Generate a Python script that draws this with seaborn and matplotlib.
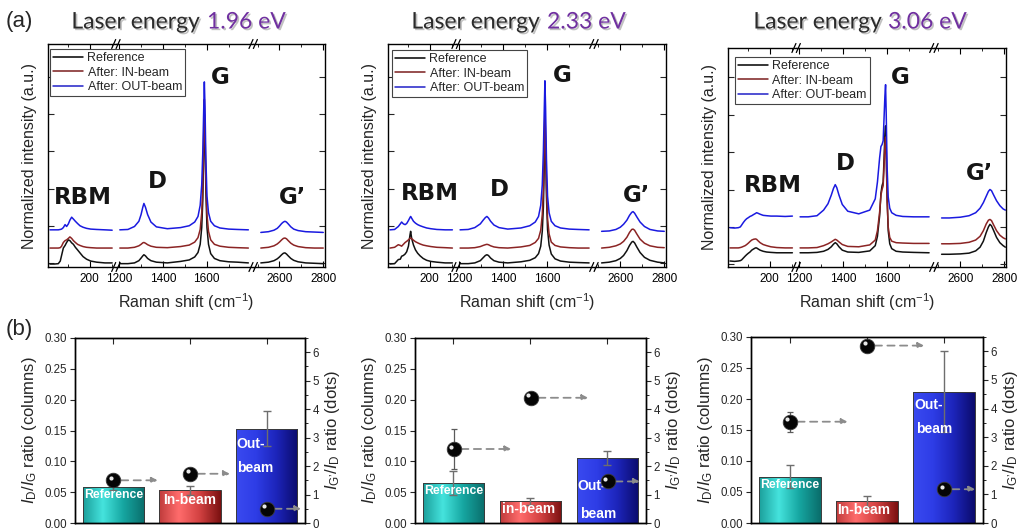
import numpy as np
import pandas as pd
import matplotlib
matplotlib.use("Agg")
import matplotlib.pyplot as plt
import seaborn as sns
from matplotlib.colors import LinearSegmentedColormap
from matplotlib.ticker import FixedLocator, MultipleLocator, FormatStrFormatter
from matplotlib.lines import Line2D
import matplotlib.transforms as mtrans
import matplotlib.patheffects as pe

sns.set_theme(style="ticks")
plt.rcParams["font.family"] = ["Liberation Sans", "DejaVu Sans"]
plt.rcParams["mathtext.fontset"] = "custom"
plt.rcParams["mathtext.rm"] = "Liberation Sans"
plt.rcParams["mathtext.it"] = "Liberation Sans:italic"
plt.rcParams["mathtext.bf"] = "Liberation Sans:bold"

# ---------------- data: Raman spectra (normalized, stacked) ----------------
series_names = ["Reference", "After: IN-beam", "After: OUT-beam"]
energies = ["1.96 eV", "2.33 eV", "3.06 eV"]

# 1.96 eV
e1_rbm_x = [19, 40, 57, 66, 72, 80, 88, 95, 103, 110, 118, 126, 135, 145, 156, 170, 186, 205, 232, 270, 303]
e1_rbm_ref = [-0.03, -0.03, -0.02, 0.05, 0.2, 0.4, 0.47, 0.55, 0.62, 0.6, 0.54, 0.5, 0.42, 0.35, 0.27, 0.17, 0.1, 0.05, 0.02, 0.0, 0.0]
e1_rbm_in = [0.4, 0.4, 0.4, 0.41, 0.45, 0.55, 0.6, 0.62, 0.66, 0.7, 0.66, 0.6, 0.55, 0.5, 0.47, 0.44, 0.42, 0.41, 0.4, 0.4, 0.4]
e1_rbm_out = [0.89, 0.89, 0.89, 0.9, 0.91, 0.95, 1.03, 0.98, 1.05, 1.15, 1.23, 1.18, 1.12, 1.06, 1.0, 0.96, 0.93, 0.91, 0.9, 0.89, 0.88]
e1_mid_x = [1203, 1240, 1270, 1290, 1300, 1308, 1313, 1320, 1330, 1345, 1370, 1420, 1480, 1520, 1545, 1560, 1570, 1577, 1582, 1586, 1589, 1592, 1596, 1601, 1608, 1618, 1635, 1660, 1700, 1740, 1790]
e1_mid_ref = [-0.02, -0.02, 0.0, 0.06, 0.13, 0.19, 0.22, 0.19, 0.12, 0.06, 0.02, 0.0, 0.04, 0.08, 0.16, 0.28, 0.5, 0.95, 1.7, 3.0, 4.0, 3.3, 1.9, 0.95, 0.5, 0.25, 0.12, 0.06, 0.03, 0.02, 0.0]
e1_mid_in = [0.4, 0.4, 0.42, 0.46, 0.5, 0.54, 0.55, 0.53, 0.49, 0.45, 0.42, 0.41, 0.44, 0.48, 0.56, 0.68, 0.9, 1.35, 2.1, 3.4, 4.4, 3.6, 2.2, 1.3, 0.85, 0.62, 0.5, 0.45, 0.42, 0.41, 0.4]
e1_mid_out = [0.89, 0.9, 0.98, 1.12, 1.3, 1.5, 1.6, 1.5, 1.3, 1.1, 0.97, 0.92, 0.95, 1.0, 1.1, 1.25, 1.55, 2.1, 3.0, 4.1, 4.87, 4.2, 2.8, 1.8, 1.35, 1.12, 1.0, 0.94, 0.91, 0.9, 0.89]
e1_gp_x = [2515, 2550, 2575, 2590, 2600, 2610, 2618, 2625, 2632, 2640, 2652, 2665, 2685, 2720, 2760, 2800]
e1_gp_ref = [0.0, 0.02, 0.06, 0.11, 0.16, 0.22, 0.26, 0.27, 0.24, 0.19, 0.12, 0.07, 0.03, 0.0, -0.01, -0.02]
e1_gp_in = [0.4, 0.42, 0.46, 0.51, 0.56, 0.62, 0.66, 0.67, 0.65, 0.6, 0.53, 0.48, 0.44, 0.41, 0.4, 0.4]
e1_gp_out = [0.82, 0.84, 0.88, 0.93, 0.99, 1.06, 1.1, 1.12, 1.1, 1.05, 0.97, 0.91, 0.87, 0.84, 0.83, 0.82]

# 2.33 eV
e2_rbm_x = [19, 40, 57, 66, 72, 80, 88, 95, 103, 110, 113, 118, 126, 135, 145, 156, 170, 186, 205, 232, 270, 303]
e2_rbm_ref = [-0.03, -0.02, 0.09, 0.1, 0.18, 0.2, 0.24, 0.3, 0.45, 0.75, 0.85, 0.65, 0.48, 0.35, 0.26, 0.19, 0.12, 0.07, 0.04, 0.02, 0.0, 0.0]
e2_rbm_in = [0.4, 0.42, 0.49, 0.47, 0.45, 0.5, 0.55, 0.58, 0.62, 0.66, 0.67, 0.65, 0.61, 0.57, 0.54, 0.51, 0.48, 0.46, 0.44, 0.42, 0.41, 0.4]
e2_rbm_out = [0.89, 0.9, 0.98, 1.05, 1.1, 1.05, 1.03, 1.06, 1.14, 1.22, 1.25, 1.2, 1.12, 1.07, 1.03, 1.0, 0.97, 0.94, 0.92, 0.9, 0.89, 0.89]
e2_mid_x = [1203, 1240, 1270, 1295, 1308, 1318, 1325, 1332, 1342, 1357, 1380, 1420, 1480, 1520, 1545, 1560, 1570, 1577, 1582, 1586, 1589, 1592, 1596, 1601, 1608, 1618, 1635, 1660, 1700, 1740, 1790]
e2_mid_ref = [-0.02, -0.02, 0.0, 0.06, 0.14, 0.2, 0.22, 0.2, 0.13, 0.06, 0.02, 0.0, 0.03, 0.07, 0.14, 0.25, 0.45, 0.85, 1.5, 2.6, 3.75, 3.1, 1.8, 0.9, 0.48, 0.24, 0.11, 0.05, 0.02, 0.01, 0.0]
e2_mid_in = [0.4, 0.4, 0.41, 0.44, 0.47, 0.49, 0.5, 0.49, 0.46, 0.43, 0.41, 0.4, 0.43, 0.47, 0.55, 0.66, 0.88, 1.3, 2.0, 3.1, 4.1, 3.4, 2.1, 1.2, 0.78, 0.56, 0.47, 0.43, 0.41, 0.4, 0.4]
e2_mid_out = [0.89, 0.9, 0.95, 1.05, 1.15, 1.22, 1.25, 1.21, 1.12, 1.02, 0.95, 0.91, 0.94, 1.0, 1.1, 1.25, 1.55, 2.1, 3.0, 4.1, 4.9, 4.2, 2.8, 1.8, 1.35, 1.12, 1.0, 0.94, 0.91, 0.9, 0.89]
e2_gp_x = [2515, 2550, 2580, 2600, 2615, 2630, 2642, 2652, 2658, 2665, 2675, 2690, 2710, 2735, 2770, 2800]
e2_gp_ref = [0.0, 0.02, 0.06, 0.12, 0.2, 0.33, 0.47, 0.56, 0.58, 0.54, 0.43, 0.28, 0.15, 0.07, 0.02, 0.0]
e2_gp_in = [0.4, 0.42, 0.46, 0.51, 0.58, 0.69, 0.82, 0.9, 0.91, 0.88, 0.78, 0.64, 0.53, 0.46, 0.42, 0.41]
e2_gp_out = [0.85, 0.86, 0.9, 0.96, 1.04, 1.15, 1.28, 1.36, 1.38, 1.34, 1.24, 1.1, 0.98, 0.9, 0.86, 0.85]

# 3.06 eV
e3_rbm_x = [19, 40, 57, 66, 72, 80, 88, 95, 103, 110, 118, 126, 135, 140, 145, 156, 170, 186, 205, 232, 270, 303]
e3_rbm_ref = [0.09, 0.08, 0.09, 0.1, 0.12, 0.17, 0.22, 0.26, 0.3, 0.33, 0.38, 0.41, 0.44, 0.44, 0.42, 0.38, 0.35, 0.33, 0.32, 0.31, 0.31, 0.31]
e3_rbm_in = [0.44, 0.44, 0.44, 0.45, 0.46, 0.48, 0.5, 0.53, 0.57, 0.61, 0.65, 0.67, 0.68, 0.67, 0.64, 0.58, 0.53, 0.5, 0.47, 0.45, 0.44, 0.44]
e3_rbm_out = [0.98, 0.97, 0.98, 1.0, 1.05, 1.12, 1.18, 1.22, 1.25, 1.28, 1.3, 1.33, 1.36, 1.38, 1.37, 1.34, 1.31, 1.3, 1.29, 1.29, 1.28, 1.29]
e3_mid_x = [1203, 1240, 1280, 1310, 1330, 1345, 1355, 1363, 1370, 1380, 1395, 1420, 1470, 1520, 1545, 1555, 1565, 1571, 1576, 1581, 1585, 1589, 1592, 1595, 1599, 1604, 1611, 1620, 1640, 1670, 1720, 1790]
e3_mid_ref = [0.31, 0.31, 0.32, 0.35, 0.4, 0.47, 0.54, 0.58, 0.55, 0.47, 0.38, 0.33, 0.32, 0.36, 0.5, 0.75, 1.3, 1.9, 2.1, 2.2, 2.8, 3.5, 3.7, 3.1, 1.8, 0.9, 0.55, 0.42, 0.35, 0.33, 0.32, 0.31]
e3_mid_in = [0.44, 0.44, 0.45, 0.5, 0.55, 0.6, 0.64, 0.67, 0.65, 0.6, 0.53, 0.48, 0.47, 0.52, 0.65, 0.9, 1.4, 1.85, 2.0, 2.1, 2.6, 3.2, 3.4, 2.9, 1.7, 1.0, 0.72, 0.62, 0.58, 0.57, 0.56, 0.56]
e3_mid_out = [1.27, 1.27, 1.3, 1.45, 1.62, 1.85, 2.03, 2.13, 2.05, 1.85, 1.6, 1.42, 1.35, 1.45, 1.75, 2.2, 2.85, 3.15, 3.2, 3.3, 3.9, 4.5, 4.8, 4.0, 2.6, 1.8, 1.5, 1.38, 1.31, 1.28, 1.27, 1.27]
e3_gp_x = [2515, 2550, 2600, 2640, 2670, 2690, 2705, 2718, 2728, 2735, 2742, 2752, 2765, 2780, 2795, 2805]
e3_gp_ref = [0.27, 0.27, 0.28, 0.3, 0.36, 0.46, 0.62, 0.85, 1.0, 1.07, 1.03, 0.9, 0.72, 0.58, 0.5, 0.46]
e3_gp_in = [0.55, 0.55, 0.56, 0.59, 0.65, 0.75, 0.9, 1.08, 1.18, 1.2, 1.17, 1.05, 0.9, 0.78, 0.71, 0.68]
e3_gp_out = [1.24, 1.24, 1.26, 1.3, 1.38, 1.5, 1.65, 1.82, 1.95, 2.0, 1.97, 1.85, 1.7, 1.57, 1.48, 1.45]

# ---------------- data: ratios ----------------
bar_categories = ["Reference", "In-beam", "Out-beam"]
idig_1 = [0.058, 0.053, 0.153]
idig_err_1 = [0.005, 0.007, 0.028]
igid_1 = [1.50, 1.73, 0.50]
igid_err_1 = [0.20, 0.12, 0.08]
idig_2 = [0.065, 0.035, 0.105]
idig_err_2 = [0.019, 0.005, 0.011]
igid_2 = [2.60, 4.40, 1.46]
igid_err_2 = [0.70, 0.15, 0.10]
idig_3 = [0.075, 0.035, 0.212]
idig_err_3 = [0.019, 0.009, 0.066]
igid_3 = [3.54, 6.20, 1.18]
igid_err_3 = [0.35, 0.15, 0.13]

# ---------------- figure ----------------
W, H = 1020, 531
fig = plt.figure(figsize=(W / 100, H / 100), dpi=100)


def fx(px):
    return px / W


def fy(py):
    return 1 - py / H


line_colors = ["#111111", "#8b2424", "#1a1ae0"]
legend_colors = ["#000000", "#7b1e1e", "#2020c8"]
seg_lims = [(10, 320), (1185, 1812), (2480, 2808)]
seg_major = [[200], [1200, 1400, 1600], [2600, 2800]]
seg_minor = [[100, 300], [1300, 1500, 1700], [2500, 2700]]

spectra = [
    [(e1_rbm_x, [e1_rbm_ref, e1_rbm_in, e1_rbm_out]),
     (e1_mid_x, [e1_mid_ref, e1_mid_in, e1_mid_out]),
     (e1_gp_x, [e1_gp_ref, e1_gp_in, e1_gp_out])],
    [(e2_rbm_x, [e2_rbm_ref, e2_rbm_in, e2_rbm_out]),
     (e2_mid_x, [e2_mid_ref, e2_mid_in, e2_mid_out]),
     (e2_gp_x, [e2_gp_ref, e2_gp_in, e2_gp_out])],
    [(e3_rbm_x, [e3_rbm_ref, e3_rbm_in, e3_rbm_out]),
     (e3_mid_x, [e3_mid_ref, e3_mid_in, e3_mid_out]),
     (e3_gp_x, [e3_gp_ref, e3_gp_in, e3_gp_out])],
]

top_frames = [(48, 325, 44, 267), (388, 666, 44, 267), (728, 1006, 48, 267)]
top_ylims = [(-0.11, 5.89), (-0.11, 5.89), (-0.07, 5.78)]
legend_pos = [(50, 49), (392, 50), (735, 57)]
title_split = [(200, 207), (540, 547), (882, 888)]
peak_labels = [
    [("RBM", 83, 198), ("D", 157, 182), ("G", 220, 78), ("G\u2019", 293, 198)],
    [("RBM", 430, 193), ("D", 499, 190), ("G", 562, 75), ("G\u2019", 637, 195)],
    [("RBM", 773, 185), ("D", 845, 163), ("G", 900, 77), ("G\u2019", 980, 173)],
]

total_span = sum(b - a for a, b in seg_lims)
for p, (left, right, top, bottom) in enumerate(top_frames):
    x0 = left
    width_px = right - left
    breaks = []
    for k, (a, b) in enumerate(seg_lims):
        w = width_px * (b - a) / total_span
        ax = fig.add_axes([fx(x0), fy(bottom), w / W, (bottom - top) / H])
        ax.set_facecolor("white")
        xs, ys_list = spectra[p][k]
        for ys, c in zip(ys_list, line_colors):
            sns.lineplot(x=xs, y=ys, ax=ax, color=c, linewidth=1.1, estimator=None, legend=False)
        ax.set_xlim(a, b)
        ax.set_ylim(*top_ylims[p])
        ax.set_xlabel("")
        ax.set_ylabel("")
        for s in ax.spines.values():
            s.set_color("black")
            s.set_linewidth(1.0)
        if k != 0:
            ax.spines["left"].set_visible(False)
        if k != 2:
            ax.spines["right"].set_visible(False)
        ax.xaxis.set_major_locator(FixedLocator(seg_major[k]))
        ax.xaxis.set_minor_locator(FixedLocator(seg_minor[k]))
        ax.tick_params(axis="x", which="major", direction="in", top=True, bottom=True,
                       length=4, width=0.8, labelsize=8.5, pad=4, colors="black")
        ax.tick_params(axis="x", which="minor", direction="in", top=True, bottom=True,
                       length=2.5, width=0.7)
        ax.yaxis.set_major_locator(FixedLocator([0, 1, 2, 3, 4, 5]))
        ax.tick_params(axis="y", which="both", direction="in", left=(k == 0), right=(k == 2),
                       labelleft=False, labelright=False, length=4, width=0.8)
        x0 += w
        if k < 2:
            breaks.append(x0)
    # break marks
    for bx in breaks:
        for by in (top, bottom):
            for o in (-2.2, 2.2):
                fig.add_artist(Line2D([fx(bx + o - 2), fx(bx + o + 2)], [fy(by + 4.5), fy(by - 4.5)],
                                      color="black", lw=0.9))
    # legend
    handles = [Line2D([], [], color=c, lw=1.1) for c in legend_colors]
    leg = fig.legend(handles, series_names, loc="upper left",
                     bbox_to_anchor=(fx(legend_pos[p][0]), fy(legend_pos[p][1])),
                     frameon=True, fancybox=False, edgecolor="#444444", framealpha=1,
                     fontsize=9, handlelength=2.4, handletextpad=0.35, borderpad=0.25,
                     labelspacing=0.2, borderaxespad=0)
    leg.get_frame().set_linewidth(0.8)
    # titles
    shadow = [pe.SimplePatchShadow(offset=(1.2, -1.2), shadow_rgbFace="#999999", alpha=0.6), pe.Normal()]
    fig.text(fx(title_split[p][0]), fy(22), "Laser energy", ha="right", va="center",
             fontsize=16.5, family="Lato", color="#2b2b2b", path_effects=shadow)
    fig.text(fx(title_split[p][1]), fy(22), energies[p], ha="left", va="center",
             fontsize=16.5, family="Lato", color="#7030a0", path_effects=shadow)
    # peak labels
    for txt, px, py in peak_labels[p]:
        fig.text(fx(px), fy(py), txt, ha="center", va="center", fontsize=16.5,
                 fontweight="bold", family="DejaVu Sans", color="#151515")
    # axis labels
    fig.text(fx((left + right) / 2), fy(302), "Raman shift (cm$^{-1}$)", ha="center",
             va="center", fontsize=11.5)
    fig.text(fx(left - 18), fy((top + bottom) / 2), "Normalized intensity (a.u.)",
             rotation=90, ha="center", va="center", fontsize=11.5)

fig.text(fx(6), fy(22), "(a)", ha="left", va="center", fontsize=16)
fig.text(fx(6), fy(330), "(b)", ha="left", va="center", fontsize=16)

# ---------------- bottom panels ----------------
cmaps = [
    LinearSegmentedColormap.from_list("teal", [(0, "#1b9f9b"), (0.32, "#45e3dd"), (0.65, "#16a6a1"), (1, "#0a6d6b")]),
    LinearSegmentedColormap.from_list("red", [(0, "#bf3b3b"), (0.32, "#ff6c6c"), (0.65, "#d44242"), (1, "#7a1010")]),
    LinearSegmentedColormap.from_list("blue", [(0, "#3a4af0"), (0.32, "#2e3de6"), (0.65, "#1d25bb"), (1, "#0b0b6c")]),
]
bot_frames = [(75, 305, 338, 523), (415, 646, 338, 523), (751, 983, 337, 523)]
bar_sets = [(idig_1, idig_err_1, igid_1, igid_err_1),
            (idig_2, idig_err_2, igid_2, igid_err_2),
            (idig_3, idig_err_3, igid_3, igid_err_3)]
arrow_len = [[0.58, 0.52, 0.45], [0.75, 0.75, 0.42], [0.75, 0.74, 0.40]]
bar_texts = [
    [("Reference", 0.0, 0.045, "center", 8.8), ("In-beam", 1.0, 0.037, "center", 10),
     ("Out-", 1.60, 0.128, "left", 10), ("beam", 1.62, 0.090, "left", 10)],
    [("Reference", 0.0, 0.052, "center", 8.8), ("in-beam", 0.97, 0.022, "center", 10),
     ("Out-", 1.61, 0.060, "left", 10), ("beam", 1.64, 0.015, "left", 10)],
    [("Reference", 0.0, 0.062, "center", 8.8), ("In-beam", 0.96, 0.021, "center", 10),
     ("Out-", 1.61, 0.190, "left", 10), ("beam", 1.64, 0.152, "left", 10)],
]
left_label = r"$I_{\mathrm{D}}/I_{\mathrm{G}}$ ratio (columns)"
right_label = r"$I_{\mathrm{G’}}/I_{\mathrm{D}}$ ratio (dots)"

for p, (left, right, top, bottom) in enumerate(bot_frames):
    vals, errs, dots, derrs = bar_sets[p]
    ax = fig.add_axes([fx(left), fy(bottom), (right - left) / W, (bottom - top) / H])
    df = pd.DataFrame({"cat": bar_categories, "val": vals})
    sns.barplot(data=df, x="cat", y="val", ax=ax, errorbar=None, width=0.8,
                color="white", edgecolor="#3a3a3a", linewidth=0.7, zorder=2)
    grad = np.linspace(0, 1, 256).reshape(1, -1)
    for patch, cm in zip(ax.patches, cmaps):
        bx, by = patch.get_x(), patch.get_y()
        bw, bh = patch.get_width(), patch.get_height()
        im = ax.imshow(grad, extent=[bx, bx + bw, by, by + bh], aspect="auto", cmap=cm,
                       zorder=2.1, interpolation="bilinear")
        im.set_clip_path(patch)
        patch.set_facecolor("none")
        patch.set_zorder(2.2)
    ax.errorbar(range(3), vals, yerr=errs, fmt="none", ecolor="#6e6e6e", elinewidth=1.0,
                capsize=3, capthick=1.0, zorder=2.5)
    ax.set_xlim(-0.5, 2.5)
    ax.set_ylim(0, 0.30)
    ax.set_xlabel("")
    ax.set_ylabel("")
    ax.yaxis.set_major_locator(MultipleLocator(0.05))
    ax.yaxis.set_major_formatter(FormatStrFormatter("%.2f"))
    ax.xaxis.set_major_locator(FixedLocator([0, 1, 2]))
    ax.tick_params(axis="x", direction="in", top=True, bottom=False, labelbottom=False,
                   length=4, width=0.8)
    ax.tick_params(axis="y", direction="out", length=3.5, width=0.8, labelsize=8.3, pad=2)
    for s in ax.spines.values():
        s.set_color("black")
        s.set_linewidth(1.0)
    for txt, tx, ty, ha, fs in bar_texts[p]:
        ax.text(tx, ty, txt, ha=ha, va="center", color="white", fontsize=fs,
                fontweight="bold", zorder=3)

    ax2 = ax.twinx()
    ax2.set_ylim(0, 6.5)
    ax2.yaxis.set_major_locator(MultipleLocator(1))
    ax2.yaxis.set_minor_locator(MultipleLocator(0.5))
    ax2.tick_params(axis="y", which="major", direction="out", length=3.5, width=0.8,
                    labelsize=8.3, pad=2)
    ax2.tick_params(axis="y", which="minor", direction="out", length=2, width=0.7)
    ax2.set_xlim(-0.5, 2.5)
    for i in range(3):
        ax2.annotate("", xy=(i + arrow_len[p][i], dots[i]), xytext=(i + 0.1, dots[i]),
                     arrowprops=dict(arrowstyle="-|>", color="#8c8c8c", lw=1.3,
                                     linestyle=(0, (4, 3)), mutation_scale=9,
                                     shrinkA=0, shrinkB=0), zorder=3)
    ax2.errorbar(range(3), dots, yerr=derrs, fmt="none", ecolor="#5a5a5a", elinewidth=0.9,
                 capsize=2.5, capthick=0.9, zorder=3.5)
    sns.scatterplot(x=list(range(3)), y=dots, ax=ax2, s=110, color="#050505",
                    edgecolor="#3a3a3a", linewidth=0.6, zorder=4, legend=False)
    hl = mtrans.offset_copy(ax2.transData, fig=fig, x=-1.8, y=1.8, units="points")
    ax2.scatter(range(3), dots, s=9, color="#e8e8e8", transform=hl, zorder=5, linewidths=0)
    ax2.set_ylabel("")
    for s in ax2.spines.values():
        s.set_color("black")
        s.set_linewidth(1.0)

    fig.text(fx(left - 45), fy((top + bottom) / 2), left_label, rotation=90,
             ha="center", va="center", fontsize=12)
    fig.text(fx(right + 28), fy((top + bottom) / 2), right_label, rotation=90,
             ha="center", va="center", fontsize=12)

fig.savefig("out.png", dpi=100)
